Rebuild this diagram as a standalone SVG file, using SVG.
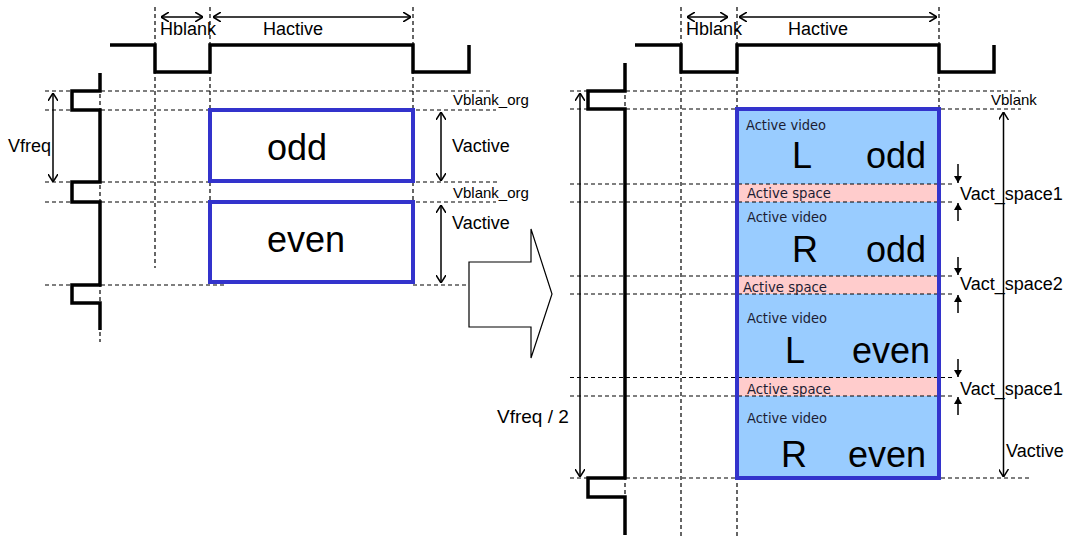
<svg xmlns="http://www.w3.org/2000/svg" width="1070" height="536" viewBox="0 0 1070 536">
<style>
.dash{stroke:#000;stroke-width:1.2;stroke-dasharray:4 3;fill:none}
.wave{stroke:#000;stroke-width:3.5;fill:none;stroke-linejoin:miter}
.arr{stroke:#000;stroke-width:1.5;fill:none;marker-start:url(#open);marker-end:url(#open)}
.sarr{stroke:#000;stroke-width:1.5;fill:none;marker-end:url(#solid)}
.lbl{font-family:"Liberation Sans",Arial,sans-serif;font-size:18px;fill:#000}
.sm{font-family:"Liberation Sans",Arial,sans-serif;font-size:15px;fill:#000}
.big{font-family:"Liberation Sans",Arial,sans-serif;font-size:36px;fill:#000}
.av{font-family:"DejaVu Sans",Verdana,sans-serif;font-size:14.5px;fill:#1c1c33}
.box{fill:none;stroke:#3333cc;stroke-width:4}
.band{fill:#ffcccc}
</style>
<defs>
<marker id="open" viewBox="0 0 8 10" refX="8" refY="5" markerWidth="8" markerHeight="10" markerUnits="userSpaceOnUse" orient="auto-start-reverse">
<path d="M0,0 L8,5 L0,10" fill="none" stroke="#000" stroke-width="1.5"/>
</marker>
<marker id="solid" viewBox="0 0 7 8" refX="7" refY="4" markerWidth="7" markerHeight="8" markerUnits="userSpaceOnUse" orient="auto">
<path d="M0,0 L7,4 L0,8 z" fill="#000"/>
</marker>
</defs>
<rect width="1070" height="536" fill="#fff"/>

<!-- LEFT DIAGRAM -->
<g id="left-grid">
<line class="dash" x1="155" y1="7" x2="155" y2="268"/>
<line class="dash" x1="210" y1="7" x2="210" y2="285"/>
<line class="dash" x1="413" y1="7" x2="413" y2="285"/>
<line class="dash" x1="100" y1="73" x2="100" y2="342"/>
<line class="dash" x1="45" y1="91" x2="492" y2="91"/>
<line class="dash" x1="45" y1="110" x2="496" y2="110"/>
<line class="dash" x1="45" y1="182" x2="498" y2="182"/>
<line class="dash" x1="45" y1="202" x2="496" y2="202"/>
<line class="dash" x1="45" y1="285" x2="226" y2="285"/>
<line class="dash" x1="413" y1="285" x2="466" y2="285"/>
</g>
<g id="left-hwave">
<path class="wave" d="M110,45 H155 V72 H210 V45 H413 V72 H469 V45"/>
</g>
<g id="left-vwave">
<path class="wave" d="M100,73 V91 H72 V110 H100 V182 H72 V202 H100 V285 H72 V303 H100 V330"/>
</g>
<g id="odd-box">
<rect class="box" x="210" y="110" width="203" height="71"/>
<text class="big" x="267" y="160">odd</text>
</g>
<g id="even-box">
<rect class="box" x="210" y="202" width="203" height="80"/>
<text class="big" x="267" y="252">even</text>
</g>
<g id="left-labels">
<text class="lbl" x="160" y="35">Hblank</text>
<text class="lbl" x="263" y="35">Hactive</text>
<text class="lbl" x="8" y="152">Vfreq</text>
<text class="sm" x="453" y="105">Vblank_org</text>
<text class="sm" x="453" y="198">Vblank_org</text>
<text class="lbl" x="452" y="152">Vactive</text>
<text class="lbl" x="452" y="229">Vactive</text>
</g>

<!-- BIG ARROW -->
<g id="transform-arrow">
<polygon points="469,262 531,262 531,229 552,294 531,358 531,327 469,327" fill="#fff" stroke="#000" stroke-width="1.2"/>
</g>

<!-- RIGHT DIAGRAM -->
<g id="right-frame">
<rect x="737" y="109" width="202" height="369" fill="#99ccff"/>
<rect class="band" x="739" y="184" width="198" height="18"/>
<rect class="band" x="739" y="276" width="198" height="18"/>
<rect class="band" x="739" y="377.5" width="198" height="18.5"/>
</g>
<g id="right-grid">
<line class="dash" x1="681" y1="7" x2="681" y2="536"/>
<line class="dash" x1="737" y1="7" x2="737" y2="536"/>
<line class="dash" x1="939" y1="7" x2="939" y2="109"/>
<line class="dash" x1="625" y1="88" x2="625" y2="112"/>
<line class="dash" x1="625" y1="476" x2="625" y2="500"/>
<line class="dash" x1="570" y1="91" x2="1021" y2="91"/>
<line class="dash" x1="570" y1="109" x2="1021" y2="109"/>
<line class="dash" x1="570" y1="184" x2="955" y2="184"/>
<line class="dash" x1="570" y1="202" x2="955" y2="202"/>
<line class="dash" x1="570" y1="276" x2="955" y2="276"/>
<line class="dash" x1="570" y1="294" x2="955" y2="294"/>
<line class="dash" x1="570" y1="377.5" x2="955" y2="377.5"/>
<line class="dash" x1="570" y1="396" x2="955" y2="396"/>
<line class="dash" x1="570" y1="478" x2="1031" y2="478"/>
</g>
<g id="right-hwave">
<path class="wave" d="M635,45 H681 V72 H737 V45 H939 V72 H994 V45"/>
</g>
<g id="right-vwave">
<path class="wave" d="M625,63 V91 H588 V109 H625 V478 H588 V497 H625 V535"/>
</g>
<g id="right-box">
<rect class="box" x="737" y="109" width="202" height="369"/>
</g>
<g id="segment-L-odd">
<text class="av" x="746" y="130" textLength="80" lengthAdjust="spacingAndGlyphs">Active video</text>
<text class="big" x="792" y="168">L</text>
<text class="big" x="866" y="168">odd</text>
</g>
<g id="space-1">
<text class="av" x="747" y="198" textLength="84" lengthAdjust="spacingAndGlyphs">Active space</text>
</g>
<g id="segment-R-odd">
<text class="av" x="747" y="222" textLength="80" lengthAdjust="spacingAndGlyphs">Active video</text>
<text class="big" x="792" y="262">R</text>
<text class="big" x="866" y="262">odd</text>
</g>
<g id="space-2">
<text class="av" x="743" y="292" textLength="84" lengthAdjust="spacingAndGlyphs">Active space</text>
</g>
<g id="segment-L-even">
<text class="av" x="747" y="323" textLength="80" lengthAdjust="spacingAndGlyphs">Active video</text>
<text class="big" x="785" y="363">L</text>
<text class="big" x="852" y="363">even</text>
</g>
<g id="space-3">
<text class="av" x="747" y="394" textLength="84" lengthAdjust="spacingAndGlyphs">Active space</text>
</g>
<g id="segment-R-even">
<text class="av" x="747" y="423" textLength="80" lengthAdjust="spacingAndGlyphs">Active video</text>
<text class="big" x="781" y="467">R</text>
<text class="big" x="848" y="467">even</text>
</g>
<g id="right-labels">
<text class="lbl" x="686" y="35">Hblank</text>
<text class="lbl" x="788" y="35">Hactive</text>
<text class="sm" x="991" y="105">Vblank</text>
<text class="lbl" x="497" y="423" style="font-size:19px">Vfreq / 2</text>
<text class="lbl" x="960" y="200">Vact_space1</text>
<text class="lbl" x="960" y="290">Vact_space2</text>
<text class="lbl" x="960" y="395">Vact_space1</text>
<text class="lbl" x="1006" y="457">Vactive</text>
</g>

<!-- CONNECTORS -->
<g id="connectors">
<line class="arr" x1="161" y1="17" x2="203" y2="17"/>
<line class="arr" x1="213" y1="17" x2="411" y2="17"/>
<line class="arr" x1="53" y1="93" x2="53" y2="182"/>
<line class="arr" x1="441" y1="112" x2="441" y2="181"/>
<line class="arr" x1="441" y1="205" x2="441" y2="283"/>
<line class="arr" x1="687" y1="17" x2="728" y2="17"/>
<line class="arr" x1="739" y1="17" x2="937" y2="17"/>
<line class="arr" x1="580" y1="93" x2="580" y2="477"/>
<line class="arr" x1="1003.5" y1="112" x2="1003.5" y2="477"/>
<line class="sarr" x1="958" y1="164" x2="958" y2="183"/>
<line class="sarr" x1="958" y1="221" x2="958" y2="203"/>
<line class="sarr" x1="958" y1="257" x2="958" y2="275"/>
<line class="sarr" x1="958" y1="313" x2="958" y2="295"/>
<line class="sarr" x1="958" y1="359" x2="958" y2="377"/>
<line class="sarr" x1="958" y1="415" x2="958" y2="397"/>
</g>
</svg>
